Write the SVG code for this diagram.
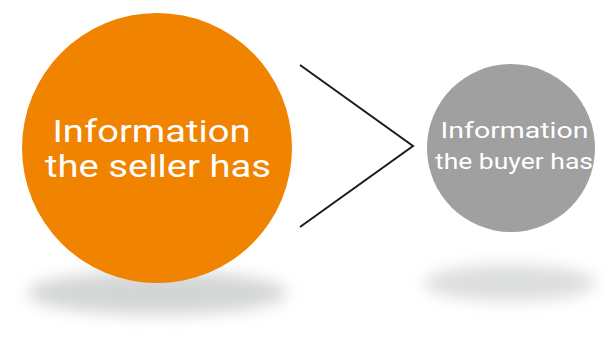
<svg xmlns="http://www.w3.org/2000/svg" width="613" height="338" viewBox="0 0 613 338">
  <style>
    .lbl { font-family: Roboto, "Liberation Sans", sans-serif; font-weight: 400; fill: #ffffff; }
    .big { font-size: 31px; }
    .small { font-size: 21.5px; }
  </style>
  <defs>
    <filter id="blur" x="-30%" y="-100%" width="160%" height="300%">
      <feGaussianBlur stdDeviation="8"/>
    </filter>
  </defs>
  <rect width="613" height="338" fill="#ffffff"/>
  <g id="shadows">
    <ellipse cx="157" cy="293" rx="130" ry="22" fill="#d4d6d6" filter="url(#blur)"/>
    <ellipse cx="510" cy="283" rx="86" ry="18" fill="#dcdddd" filter="url(#blur)"/>
  </g>
  <g id="seller">
    <circle cx="157" cy="148" r="135" fill="#f08300"/>
    <text class="lbl big" x="52.5" y="142" textLength="198" lengthAdjust="spacingAndGlyphs">Information</text>
    <text class="lbl big" x="45" y="177" textLength="226" lengthAdjust="spacingAndGlyphs">the seller has</text>
  </g>
  <g id="buyer">
    <circle cx="511" cy="148" r="84" fill="#9fa09f"/>
    <text class="lbl small" x="440.5" y="137.5" textLength="148" lengthAdjust="spacingAndGlyphs">Information</text>
    <text class="lbl small" x="435" y="168.5" textLength="158" lengthAdjust="spacingAndGlyphs">the buyer has</text>
  </g>
  <g id="connectors">
    <polyline points="300,65 413,146 300,227" fill="none" stroke="#231815" stroke-width="2"/>
  </g>
</svg>
